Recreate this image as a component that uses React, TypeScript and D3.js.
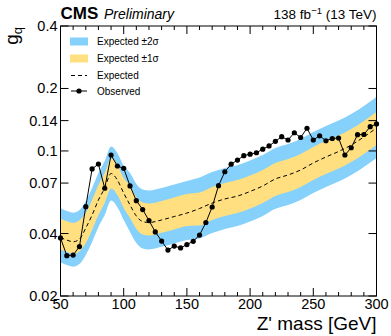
import React from "react";
import * as d3 from "d3";

// ---- data ----
const obsMass = [50,55,60,65,70,75,80,85,90,95,100,105,110,115,120,125,130,135,140,145,150,155,160,165,170,175,180,185,190,195,200,205,210,215,220,225,230,235,240,245,250,255,260,265,270,275,280,285,290,295,300];
const obsVal = [0.0381,0.0313,0.0315,0.0346,0.0539,0.0819,0.0865,0.0661,0.0956,0.0846,0.0825,0.0678,0.0576,0.0522,0.0462,0.0407,0.0368,0.0333,0.0348,0.0341,0.0354,0.0367,0.0393,0.0452,0.0537,0.0680,0.0794,0.0863,0.0904,0.0949,0.0965,0.0980,0.1020,0.1057,0.1113,0.1171,0.1129,0.1224,0.1161,0.1286,0.1129,0.1183,0.1120,0.1148,0.1154,0.0956,0.1036,0.1198,0.1200,0.1309,0.1349];

const expMass = [50,55,60,65,70,75,80,85,90,95,100,105,110,115,120,130,140,150,160,170,180,190,200,210,220,230,240,250,260,270,280,290,300];
const expVal = [0.0383,0.0372,0.0365,0.0376,0.0425,0.0491,0.0580,0.0663,0.0779,0.0724,0.0627,0.0549,0.0486,0.0457,0.0452,0.0465,0.0483,0.0502,0.0528,0.0561,0.0587,0.0606,0.0638,0.0678,0.0733,0.0766,0.0810,0.0875,0.0935,0.0994,0.1068,0.1168,0.1290];
const plus2 = [0.0529,0.0513,0.0504,0.0519,0.0573,0.0662,0.0782,0.0894,0.1051,0.0977,0.0846,0.0783,0.0693,0.0652,0.0645,0.0663,0.0689,0.0716,0.0744,0.0791,0.0828,0.0854,0.0900,0.0956,0.1034,0.1080,0.1142,0.1234,0.1318,0.1402,0.1506,0.1647,0.1819];
const plus1 = [0.0473,0.0459,0.0451,0.0464,0.0502,0.0580,0.0685,0.0783,0.0920,0.0855,0.0740,0.0678,0.0600,0.0564,0.0558,0.0574,0.0597,0.0620,0.0630,0.0670,0.0701,0.0724,0.0762,0.0810,0.0875,0.0915,0.0967,0.1045,0.1116,0.1187,0.1275,0.1395,0.1540];
const minus1 = [0.0335,0.0326,0.0319,0.0329,0.0360,0.0416,0.0491,0.0562,0.0660,0.0613,0.0531,0.0475,0.0421,0.0396,0.0391,0.0403,0.0418,0.0435,0.0437,0.0465,0.0486,0.0502,0.0528,0.0561,0.0607,0.0634,0.0671,0.0725,0.0774,0.0823,0.0884,0.0967,0.1068];
const minus2 = [0.0290,0.0282,0.0277,0.0285,0.0315,0.0364,0.0430,0.0491,0.0577,0.0536,0.0465,0.0407,0.0360,0.0339,0.0335,0.0345,0.0358,0.0372,0.0379,0.0402,0.0421,0.0435,0.0457,0.0486,0.0526,0.0549,0.0581,0.0627,0.0670,0.0713,0.0766,0.0837,0.0925];

const xMajor = [50,100,150,200,250,300];
const xMinor = [60,70,80,90,110,120,130,140,160,170,180,190,210,220,230,240,260,270,280,290];
const yTicks = [0.02,0.04,0.07,0.1,0.14,0.2,0.4];
const yTickLabels = ["0.02","0.04","0.07","0.1","0.14","0.2","0.4"];

const legendItems = ["Expected \u00b12\u03c3", "Expected \u00b11\u03c3", "Expected", "Observed"];

const BLUE = "#85D1FB";
const YELLOW = "#FFDF7F";
const FONT = "'Liberation Sans', Arial, Helvetica, sans-serif";

export default function App() {
  const W = 391, H = 336;
  const L = 60.5, R = 376.5, T = 26, B = 296;
  const x = d3.scaleLinear().domain([50, 300]).range([L, R]);
  const y = d3.scaleLog().domain([0.02, 0.4]).range([B, T]);

  const band = (lo: number[], hi: number[]) =>
    d3.area<number>()
      .x((_, i) => x(expMass[i]))
      .y0((_, i) => y(lo[i]))
      .y1((_, i) => y(hi[i]))
      .curve(d3.curveMonotoneX)(expMass) || "";

  const expLine = d3.line<number>()
    .x((_, i) => x(expMass[i]))
    .y((d) => y(d))
    .curve(d3.curveMonotoneX)(expVal) || "";

  const obsLine = d3.line<number>()
    .x((_, i) => x(obsMass[i]))
    .y((d) => y(d))(obsVal) || "";

  const legY = [41.5, 58.5, 75.5, 91];

  return (
    <svg width={W} height={H} style={{ position: "absolute", left: 0, top: 0, background: "#fff" }} fontFamily={FONT}>
      <defs>
        <clipPath id="plotclip">
          <rect x={L} y={T} width={R - L} height={B - T} />
        </clipPath>
      </defs>
      <g clipPath="url(#plotclip)">
        <path d={band(minus2, plus2)} fill={BLUE} />
        <path d={band(minus1, plus1)} fill={YELLOW} />
        <path d={expLine} fill="none" stroke="#000" strokeWidth={1} strokeDasharray="4,3" />
        <path d={obsLine} fill="none" stroke="#000" strokeWidth={1} />
      </g>
      {obsVal.map((v, i) => (
        <circle key={i} cx={x(obsMass[i])} cy={y(v)} r={2.6} fill="#000" />
      ))}

      {/* frame */}
      <rect x={L} y={T} width={R - L} height={B - T} fill="none" stroke="#000" strokeWidth={1} />

      {/* x ticks */}
      {xMajor.map((m) => (
        <g key={"xm" + m}>
          <line x1={x(m)} x2={x(m)} y1={B} y2={B - 8} stroke="#000" />
          <line x1={x(m)} x2={x(m)} y1={T} y2={T + 8} stroke="#000" />
          <text x={x(m)} y={309} fontSize={14.5} textAnchor="middle">{m}</text>
        </g>
      ))}
      {xMinor.map((m) => (
        <g key={"xn" + m}>
          <line x1={x(m)} x2={x(m)} y1={B} y2={B - 4} stroke="#000" />
          <line x1={x(m)} x2={x(m)} y1={T} y2={T + 4} stroke="#000" />
        </g>
      ))}

      {/* y ticks */}
      {yTicks.map((v, i) => (
        <g key={"y" + v}>
          <line x1={L} x2={L + 8} y1={y(v)} y2={y(v)} stroke="#000" />
          <line x1={R} x2={R - 8} y1={y(v)} y2={y(v)} stroke="#000" />
          <text x={L - 3} y={y(v) + 5} fontSize={14.5} textAnchor="end">{yTickLabels[i]}</text>
        </g>
      ))}

      {/* axis titles */}
      <text x={R} y={330} fontSize={19} textAnchor="end">Z' mass [GeV]</text>
      <text transform={`translate(18,27) rotate(-90)`} fontSize={19} textAnchor="end">
        g<tspan fontSize={13} dy={4}>q</tspan>
      </text>

      {/* header */}
      <text x={L} y={19} fontSize={17} fontWeight="bold">CMS</text>
      <text x={104} y={19} fontSize={14} fontStyle="italic">Preliminary</text>
      <text x={R} y={19} fontSize={13.5} textAnchor="end">
        138 fb<tspan fontSize={9.5} dy={-5}>{"\u22121"}</tspan><tspan dy={5}>{" (13 TeV)"}</tspan>
      </text>

      {/* legend */}
      <rect x={70} y={37.5} width={18} height={8} fill={BLUE} />
      <rect x={70} y={54.5} width={18} height={8} fill={YELLOW} />
      <line x1={71} x2={87} y1={legY[2]} y2={legY[2]} stroke="#000" strokeDasharray="4,3" />
      <line x1={71} x2={87} y1={legY[3]} y2={legY[3]} stroke="#000" />
      <circle cx={79} cy={legY[3]} r={2.6} fill="#000" />
      {legendItems.map((t, i) => (
        <text key={t} x={97} y={legY[i] + 3.5} fontSize={10}>{t}</text>
      ))}
    </svg>
  );
}
